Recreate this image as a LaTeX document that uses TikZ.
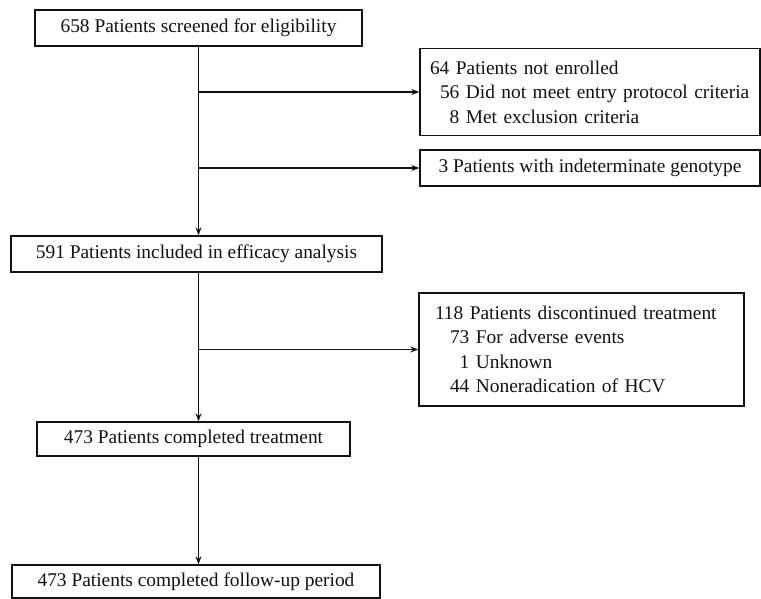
\documentclass[tikz,border=0pt]{standalone}
\usepackage{fontspec}
\setmainfont{Liberation Serif}
\usepackage{xcolor}
\usepackage{tikz}
\usetikzlibrary{calc,positioning,arrows.meta}
\definecolor{ink}{HTML}{111111}
\tikzset{
  box/.style={draw=ink, line width=1.3pt, inner sep=0pt, minimum height=36pt,
    text=ink, font=\fontsize{19.4}{24.5}\selectfont},
  flow/.style={draw=ink, line width=1.3pt, -{Stealth[length=8pt, width=6pt]}}
}

\begin{document}
\begin{tikzpicture}[x=1pt, y=-1pt]
  \useasboundingbox (0,0) rectangle (761,599);
  % main column
  \node[box, minimum width=327pt] (screened) at (198.5,28) {658 Patients screened for eligibility};
  \node[box, minimum width=371pt] (included) at (196.5,254) {591 Patients included in efficacy analysis};
  \node[box, minimum width=313pt, minimum height=34pt] (treated) at (193.5,439) {473 Patients completed treatment};
  \node[box, minimum width=368pt, minimum height=33pt] (followup) at (196,581.5) {473 Patients completed follow-up period};
  % side boxes
  \node[box, align=left, text width=320pt, inner xsep=10pt, minimum height=87pt] (notenrolled) at (590,92) {
    64 Patients not enrolled\\
    \hspace*{10pt}56 Did not meet entry protocol criteria\\
    \hspace*{10pt}\phantom{5}8 Met exclusion criteria};
  \node[box, minimum width=340pt] (genotype) at (590,168) {3 Patients with indeterminate genotype};
  \node[box, align=left, text width=293pt, inner xsep=16pt, minimum height=113pt] (stopped) at (581.5,349.5) {
    118 Patients discontinued treatment\\
    \hspace*{15pt}73 For adverse events\\
    \hspace*{15pt}\phantom{7}1 Unknown\\
    \hspace*{15pt}44 Noneradication of HCV};
  % connectors
  \draw[flow] (screened.south) -- (screened.south |- included.north);
  \draw[flow] (included.south -| screened.south) -- (treated.north -| screened.south);
  \draw[flow] (treated.south -| screened.south) -- (followup.north -| screened.south);
  \draw[flow] (notenrolled.west -| screened.south) -- (notenrolled.west);
  \draw[flow] (genotype.west -| screened.south) -- (genotype.west);
  \draw[flow] (stopped.west -| screened.south) -- (stopped.west);
\end{tikzpicture}
\end{document}
